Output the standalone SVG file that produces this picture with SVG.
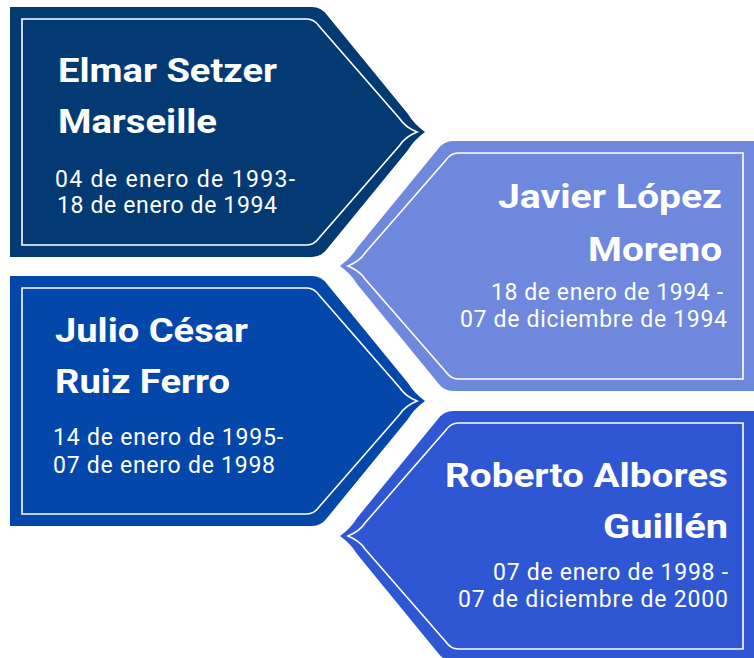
<svg xmlns="http://www.w3.org/2000/svg" xmlns:xlink="http://www.w3.org/1999/xlink" width="754" height="658" viewBox="0 0 754 658">
<style>
.name{font-family:Roboto,"Liberation Sans",Arial,sans-serif;font-weight:700;font-size:34px;fill:#ffffff}
.date{font-family:Roboto,"Liberation Sans",Arial,sans-serif;font-weight:400;font-size:23px;fill:#ffffff}
.line{fill:none;stroke:#ffffff;stroke-width:1.6}
</style>
<defs>
<path id="outer" d="M0,0 H302 Q311,0 317,8 L398,107 Q404,117 415,125 Q404,133 398,143 L317,242 Q311,250 302,250 H0 Z"/>
<path id="inner" d="M12,12 H297 Q304,12 309,19 L390,112 Q395,120 407,125 Q395,130 390,138 L309,231 Q304,238 297,238 H12 Z"/>
</defs>
<rect width="754" height="658" fill="#ffffff"/>

<g id="node-elmar">
<use xlink:href="#outer" href="#outer" transform="translate(10,7)" fill="#033a74"/>
<use xlink:href="#inner" href="#inner" transform="translate(10,7)" class="line"/>
<text class="name" x="58" y="82" textLength="219" lengthAdjust="spacingAndGlyphs">Elmar Setzer</text>
<text class="name" x="58" y="133" textLength="159" lengthAdjust="spacingAndGlyphs">Marseille</text>
<text class="date" x="55" y="187" textLength="240" lengthAdjust="spacing">04 de enero de 1993-</text>
<text class="date" x="57" y="213" textLength="220" lengthAdjust="spacing">18 de enero de 1994</text>
</g>

<g id="node-javier">
<use xlink:href="#outer" href="#outer" transform="translate(755,141) scale(-1,1)" fill="#6e88de"/>
<use xlink:href="#inner" href="#inner" transform="translate(755,141) scale(-1,1)" class="line"/>
<text class="name" x="498" y="208" textLength="224" lengthAdjust="spacingAndGlyphs">Javier López</text>
<text class="name" x="588" y="261" textLength="134" lengthAdjust="spacingAndGlyphs">Moreno</text>
<text class="date" x="491" y="300" textLength="232" lengthAdjust="spacing">18 de enero de 1994 -</text>
<text class="date" x="460" y="327" textLength="267" lengthAdjust="spacing">07 de diciembre de 1994</text>
</g>

<g id="node-julio">
<use xlink:href="#outer" href="#outer" transform="translate(10,276)" fill="#0347ab"/>
<use xlink:href="#inner" href="#inner" transform="translate(10,276)" class="line"/>
<text class="name" x="55" y="342" textLength="193" lengthAdjust="spacingAndGlyphs">Julio César</text>
<text class="name" x="55" y="393" textLength="175" lengthAdjust="spacingAndGlyphs">Ruiz Ferro</text>
<text class="date" x="53" y="445" textLength="230" lengthAdjust="spacing">14 de enero de 1995-</text>
<text class="date" x="53" y="473" textLength="222" lengthAdjust="spacing">07 de enero de 1998</text>
</g>

<g id="node-roberto">
<use xlink:href="#outer" href="#outer" transform="translate(755,411) scale(-1,1)" fill="#2f57d3"/>
<use xlink:href="#inner" href="#inner" transform="translate(755,411) scale(-1,1)" class="line"/>
<text class="name" x="445" y="487" textLength="283" lengthAdjust="spacingAndGlyphs">Roberto Albores</text>
<text class="name" x="603" y="538" textLength="125" lengthAdjust="spacingAndGlyphs">Guillén</text>
<text class="date" x="493" y="580" textLength="235" lengthAdjust="spacing">07 de enero de 1998 -</text>
<text class="date" x="458" y="607" textLength="270" lengthAdjust="spacing">07 de diciembre de 2000</text>
</g>
</svg>
